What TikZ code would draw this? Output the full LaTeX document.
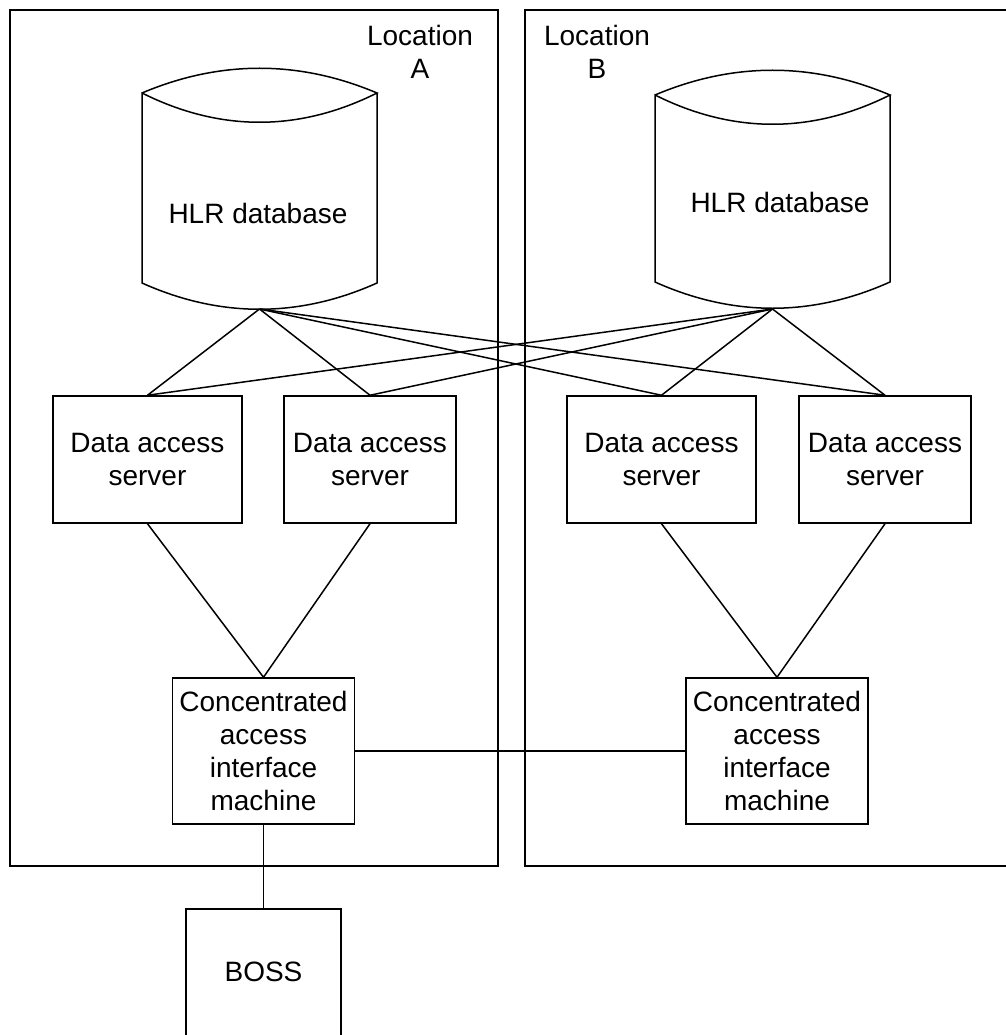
\documentclass[tikz,border=0pt]{standalone}
\usepackage{fontspec}
\setmainfont{Liberation Sans}
\usetikzlibrary{positioning}

\begin{document}
\begin{tikzpicture}[x=1pt, y=-1pt, line width=1.5pt,
    every node/.style={align=center, font=\fontsize{28}{33}\selectfont},
    box/.style={draw, inner sep=0pt},
    frame/.style={line width=1.8pt}]
  \useasboundingbox (0,0) rectangle (1005,1035);
  % Location frames
  \draw[frame] (10,10) rectangle (498,866);
  \draw[frame] (525,10) rectangle (1015,866);
  \node (locA) at (420,52) {Location\\A};
  \node (locB) at (597,52) {Location\\B};
  % HLR databases
  \draw (142,93) .. controls (220,60) and (299,60) .. (377,93)
        .. controls (299,132) and (220,132) .. (142,93) -- (142,283)
        .. controls (220,318) and (299,318) .. (377,283) -- (377,93);
  \node (hlrA) at (258,213) {HLR database};
  \coordinate (dbA) at (259.5,309);
  \draw (655,95) .. controls (733,62) and (812,62) .. (890,95)
        .. controls (812,134) and (733,134) .. (655,95) -- (655,282)
        .. controls (733,317) and (812,317) .. (890,282) -- (890,95);
  \node (hlrB) at (780,202) {HLR database};
  \coordinate (dbB) at (772.5,309);
  % Data access servers
  \node[box, minimum width=189pt, minimum height=127pt] (dasA1) at (147.5,459.5) {Data access\\server};
  \node[box, minimum width=172pt, minimum height=127pt] (dasA2) at (370,459.5) {Data access\\server};
  \node[box, minimum width=189pt, minimum height=127pt] (dasB1) at (661.5,459.5) {Data access\\server};
  \node[box, minimum width=172pt, minimum height=127pt] (dasB2) at (885,459.5) {Data access\\server};
  % Concentrated access interface machines
  \node[box, minimum width=182pt, minimum height=146pt] (caimA) at (263.5,751) {Concentrated\\access\\interface\\machine};
  \node[box, minimum width=182pt, minimum height=146pt] (caimB) at (777,751) {Concentrated\\access\\interface\\machine};
  % BOSS
  \node[box, minimum width=155pt, minimum height=140pt] (boss) at (263.5,979) {};
  \node (bosstxt) at (263.5,972) {BOSS};
  % Links
  \foreach \db in {dbA,dbB}
    \foreach \srv in {dasA1,dasA2,dasB1,dasB2}
      \draw (\db) -- (\srv.north);
  \draw (dasA1.south) -- (caimA.north) -- (dasA2.south);
  \draw (dasB1.south) -- (caimB.north) -- (dasB2.south);
  \draw (caimA.east) -- (caimB.west);
  \draw (caimA.south) -- (boss.north);
\end{tikzpicture}
\end{document}
